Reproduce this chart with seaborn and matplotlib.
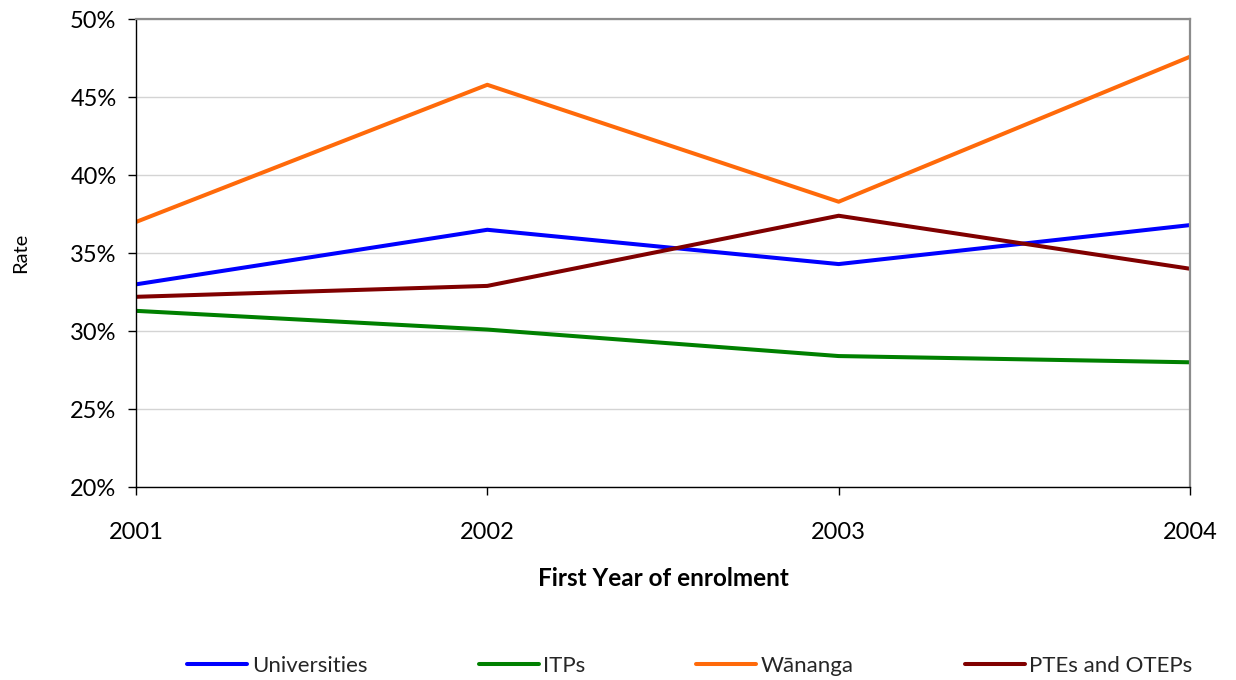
import matplotlib
matplotlib.use("Agg")
import matplotlib.pyplot as plt
import seaborn as sns
import pandas as pd
from matplotlib.ticker import PercentFormatter

# Completion rates by first year of enrolment and provider type
years = [2001, 2002, 2003, 2004]
universities = [33.0, 36.5, 34.3, 36.8]
itps = [31.3, 30.1, 28.4, 28.0]
wananga = [37.0, 45.8, 38.3, 47.6]
ptes = [32.2, 32.9, 37.4, 34.0]

series_names = ["Universities", "ITPs", "Wānanga", "PTEs and OTEPs"]
series_values = [universities, itps, wananga, ptes]
colors = ["#0000FF", "#008000", "#FF6A0A", "#800000"]

y_ticks = [20, 25, 30, 35, 40, 45, 50]

df = pd.DataFrame(
    [(y, name, v) for name, vals in zip(series_names, series_values)
     for y, v in zip(years, vals)],
    columns=["year", "provider", "rate"],
)

sns.set_theme(style="white")
plt.rcParams["font.family"] = ["Lato", "DejaVu Sans"]

fig = plt.figure(figsize=(12.36, 6.8), dpi=100)
ax = fig.add_axes([0.110, 0.2838, 0.8528, 0.6878])

sns.lineplot(
    data=df, x="year", y="rate", hue="provider",
    hue_order=series_names, palette=dict(zip(series_names, colors)),
    linewidth=2.9, ax=ax, legend=False,
)

ax.set_xlim(years[0], years[-1])
ax.set_ylim(y_ticks[0], y_ticks[-1])
ax.set_xticks(years)
ax.set_xticklabels([str(y) for y in years])
ax.set_yticks(y_ticks)
ax.yaxis.set_major_formatter(PercentFormatter(decimals=0))

ax.grid(axis="y", color="#D4D4D4", linewidth=1.0)
ax.set_axisbelow(True)

for side in ("top", "right"):
    ax.spines[side].set_color("#8C8C8C")
    ax.spines[side].set_linewidth(1.6)
for side in ("left", "bottom"):
    ax.spines[side].set_color("black")
    ax.spines[side].set_linewidth(1.0)

ax.tick_params(axis="y", which="major", direction="out", length=6, width=1,
               color="black", pad=8, labelsize=17, labelcolor="black", left=True)
ax.tick_params(axis="x", which="major", direction="out", length=6, width=1,
               color="black", pad=19.5, labelsize=17, labelcolor="black", bottom=True)

ax.set_xlabel("First Year of enrolment", fontsize=17.5, fontweight="bold",
              labelpad=17, color="black")
ax.set_ylabel("Rate", fontsize=14.5, labelpad=29.5, color="black")

handles = [plt.Line2D([], [], color=c, linewidth=2.9) for c in colors]
fig.legend(
    handles, series_names, loc="center", ncol=4,
    bbox_to_anchor=(690 / 1236, 1 - 666 / 680),
    frameon=False, fontsize=16, handlelength=2.7, handletextpad=0.2,
    columnspacing=5.0, borderpad=0,
)

fig.savefig("out.png", dpi=100, facecolor="white")
